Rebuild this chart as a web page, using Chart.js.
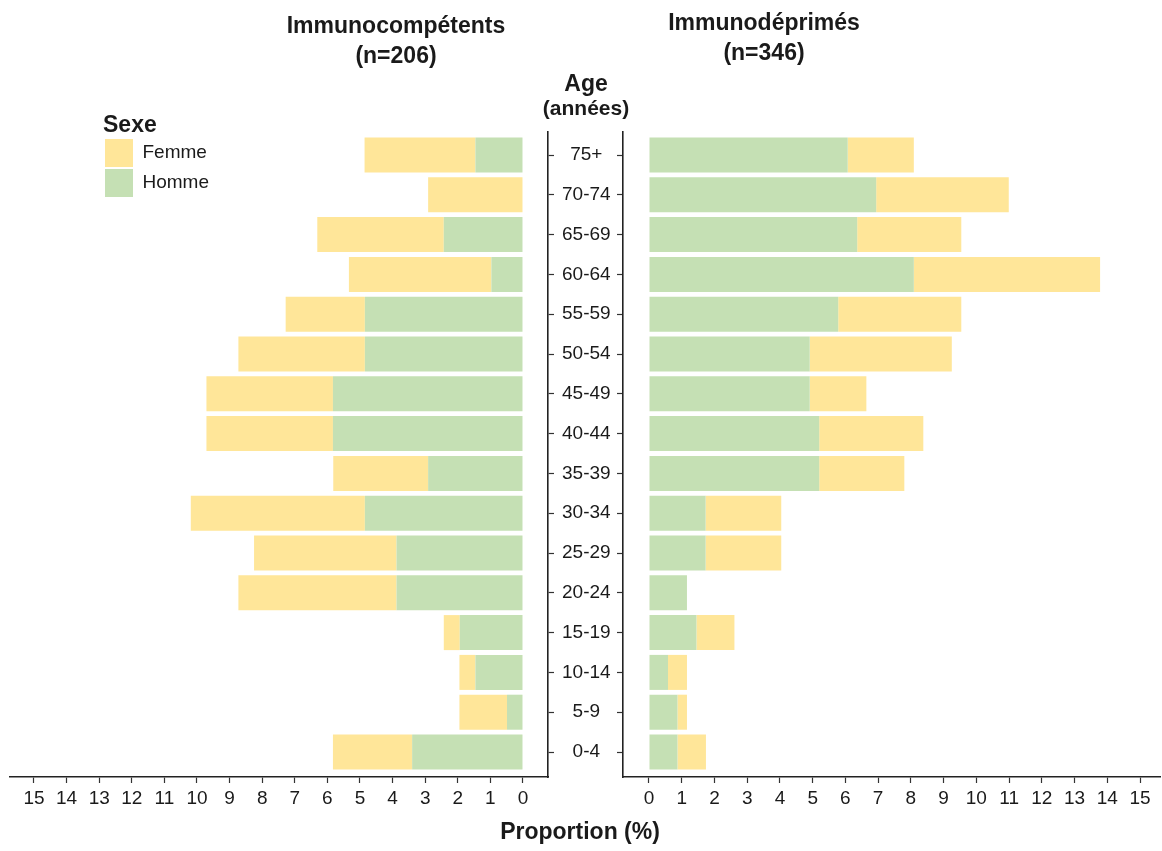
<!DOCTYPE html>
<html lang="fr">
<head>
<meta charset="utf-8">
<title>Pyramide des âges</title>
<script src="https://cdn.jsdelivr.net/npm/chart.js@4.4.1/dist/chart.umd.min.js"></script>
<style>
    body { margin: 0; background: #fff; font-family: "Liberation Sans", Arial, sans-serif; color: #1a1a1a; }
    #wrap { position: relative; width: 1162px; height: 851px; }
    .layer { position: absolute; left: 0; top: 0; width: 1162px; height: 851px; }
    .txt { position: absolute; font-weight: bold; text-align: center; white-space: nowrap; transform: translateX(-50%); }
</style>
</head>
<body>
<div id="wrap">
    <div class="layer"><canvas id="rightChart"></canvas></div>
    <div class="layer"><canvas id="leftChart"></canvas></div>
    <div class="txt" style="left:396px; top:10px; font-size:23px; line-height:30px;">Immunocompétents<br>(n=206)</div>
    <div class="txt" style="left:764px; top:7px; font-size:23px; line-height:30px;">Immunodéprimés<br>(n=346)</div>
    <div class="txt" style="left:586px; top:70px; font-size:23px; line-height:26px;">Age</div>
    <div class="txt" style="left:586px; top:96px; font-size:21px; line-height:24px;">(années)</div>
    <div class="txt" style="left:580px; top:816px; font-size:23px; line-height:30px;">Proportion (%)</div>
</div>
<script>
// Data (%), age groups from top to bottom
const ageGroups = ['75+', '70-74', '65-69', '60-64', '55-59', '50-54', '45-49', '40-44',
    '35-39', '30-34', '25-29', '20-24', '15-19', '10-14', '5-9', '0-4'];

// Immunocompétents (n=206)
const compHomme = [1.46, 0, 2.43, 0.97, 4.85, 4.85, 5.83, 5.83, 2.91, 4.85, 3.88, 3.88, 1.94, 1.46, 0.49, 3.40];
const compFemme = [3.40, 2.91, 3.88, 4.37, 2.43, 3.88, 3.88, 3.88, 2.91, 5.34, 4.37, 4.85, 0.49, 0.49, 1.46, 2.43];

// Immunodéprimés (n=346)
const depHomme = [6.07, 6.94, 6.36, 8.09, 5.78, 4.91, 4.91, 5.20, 5.20, 1.73, 1.73, 1.16, 1.45, 0.58, 0.87, 0.87];
const depFemme = [2.02, 4.05, 3.18, 5.69, 3.76, 4.34, 1.73, 3.18, 2.60, 2.31, 2.31, 0, 1.16, 0.58, 0.29, 0.87];

const proportionTicks = [0, 1, 2, 3, 4, 5, 6, 7, 8, 9, 10, 11, 12, 13, 14, 15];

const femmeColor = '#FFE699';
const hommeColor = '#C5E0B4';
const inkColor = '#1a1a1a';

Chart.defaults.font.family = '"Liberation Sans", Arial, sans-serif';
Chart.defaults.color = inkColor;

function toPoints(values) {
    return values.map((v, i) => ({ x: v, y: i }));
}

function makeDatasets(homme, femme) {
    return [
        { label: 'Homme', data: toPoints(homme), backgroundColor: hommeColor, borderWidth: 0, barPercentage: 0.88, categoryPercentage: 1 },
        { label: 'Femme', data: toPoints(femme), backgroundColor: femmeColor, borderWidth: 0, barPercentage: 0.88, categoryPercentage: 1 }
    ];
}

function xScale(min, max, reverse) {
    return {
        type: 'linear', min: min, max: max, reverse: reverse, stacked: true,
        afterBuildTicks: s => { s.ticks = proportionTicks.map(v => ({ value: v })); },
        afterFit: s => { s.height = 44; },
        grid: { drawOnChartArea: false, drawTicks: true, tickLength: 6, tickWidth: 1.2, tickColor: '#333' },
        border: { display: true, color: '#222', width: 1.6 },
        ticks: { color: inkColor, font: { size: 19 }, padding: 4, maxRotation: 0, autoSkip: false }
    };
}

function yScale(position, showLabels) {
    return {
        type: 'linear', position: position, reverse: true, min: -0.578, max: 15.628,
        stacked: true, offset: false,
        afterBuildTicks: s => { s.ticks = ageGroups.map((a, i) => ({ value: i })); },
        afterFit: s => { s.width = showLabels ? 75 : 6; },
        grid: { offset: false, drawOnChartArea: false, drawTicks: true, tickLength: 6, tickWidth: 1.2, tickColor: '#333' },
        border: { display: true, color: '#222', width: 1.6 },
        ticks: {
            display: showLabels, color: inkColor, font: { size: 19 }, padding: 8,
            crossAlign: 'center', autoSkip: false,
            callback: v => ageGroups[v]
        }
    };
}

// Move the legend into the empty top-left corner of the left panel
const legendPlacement = {
    id: 'legendPlacement',
    afterLayout(chart) {
        const lg = chart.legend;
        if (!lg) return;
        const dx = 103 - lg.left;
        const dy = 114 - lg.top;
        lg.left += dx; lg.right += dx;
        lg.top += dy; lg.bottom += dy;
    }
};

// Left panel: Immunocompétents
new Chart(document.getElementById('leftChart'), {
    type: 'bar',
    data: { datasets: makeDatasets(compHomme, compFemme) },
    options: {
        indexAxis: 'y',
        responsive: true,
        maintainAspectRatio: false,
        animation: false,
        layout: { padding: { left: 10, right: 539, top: 132, bottom: 30 } },
        scales: {
            x: xScale(-0.767, 15.736, true),
            y: yScale('right', true)
        },
        plugins: {
            tooltip: { enabled: false },
            legend: {
                position: 'chartArea',
                align: 'start',
                reverse: true,
                title: { display: true, text: 'Sexe', position: 'start', color: inkColor, font: { size: 23, weight: 'bold', lineHeight: 1 }, padding: 0 },
                labels: { boxWidth: 28, boxHeight: 28, padding: 2, color: inkColor, font: { size: 19 } }
            }
        }
    },
    plugins: [legendPlacement]
});

// Right panel: Immunodéprimés
new Chart(document.getElementById('rightChart'), {
    type: 'bar',
    data: { datasets: makeDatasets(depHomme, depFemme) },
    options: {
        indexAxis: 'y',
        responsive: true,
        maintainAspectRatio: false,
        animation: false,
        layout: { padding: { left: 617, right: 2, top: 132, bottom: 30 } },
        scales: {
            x: xScale(-0.794, 15.61, false),
            y: yScale('left', false)
        },
        plugins: {
            tooltip: { enabled: false },
            legend: { display: false }
        }
    }
});
</script>
</body>
</html>
